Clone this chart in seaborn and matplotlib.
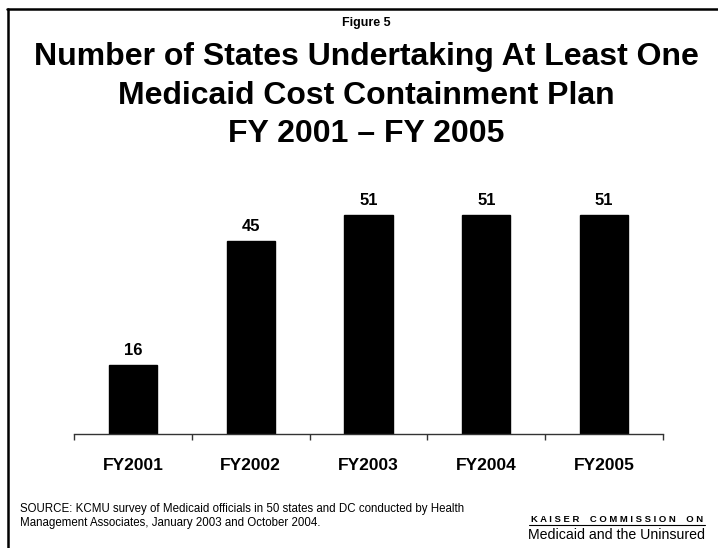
import matplotlib
matplotlib.use("Agg")
import matplotlib.pyplot as plt
import seaborn as sns
import pandas as pd

categories = ["FY2001", "FY2002", "FY2003", "FY2004", "FY2005"]
values = [16, 45, 51, 51, 51]

sns.set_theme(style="white")
plt.rcParams['font.family'] = ['Liberation Sans', 'DejaVu Sans']
plt.rcParams['text.color'] = 'black'
plt.rcParams['xtick.color'] = 'black'
plt.rcParams['axes.labelcolor'] = 'black'

fig = plt.figure(figsize=(7.18, 5.48), dpi=100)
fig.patch.set_facecolor("white")

# frame lines (top and left)
fig.add_artist(plt.Line2D([7/718, 1], [1-8.5/548, 1-8.5/548], color="black", lw=1.8, transform=fig.transFigure))
fig.add_artist(plt.Line2D([7.5/718, 7.5/718], [0, 1-8.5/548], color="black", lw=1.8, transform=fig.transFigure))

ax = fig.add_axes([74/718, 1-434/548, 589/718, 254/548])
df = pd.DataFrame({"year": categories, "count": values})
sns.barplot(data=df, x="year", y="count", color="black", width=0.41, ax=ax,
            saturation=1, edgecolor="black")
ax.set_ylim(0, 59.2)
ax.set_xlim(-0.5, len(categories) - 0.5)
for s in ["top", "right", "left"]:
    ax.spines[s].set_visible(False)
ax.spines["bottom"].set_color("#333333")
ax.spines["bottom"].set_linewidth(1.0)
ax.set_yticks([])
ax.set_xlabel("")
ax.set_ylabel("")
ax.set_xticks([i - 0.5 for i in range(len(categories) + 1)])
ax.set_xticklabels([])
ax.tick_params(axis="x", which="major", direction="out", length=4.5, width=1, color="#333333", bottom=True)
ax.set_xticks(range(len(categories)), minor=True)
ax.set_xticklabels(categories, minor=True, fontsize=12.5, fontweight="bold", color="black")
ax.tick_params(axis="x", which="minor", length=0, pad=17)
ax.bar_label(ax.containers[0], labels=[str(v) for v in values], padding=5,
             fontsize=12, fontweight="bold", color="black")

fig.text(366/718, 1-26/548, "Figure 5", ha="center", va="baseline", fontsize=9,
         fontweight="bold")
for i, line in enumerate(["Number of States Undertaking At Least One",
                          "Medicaid Cost Containment Plan",
                          "FY 2001 \u2013 FY 2005"]):
    fig.text(366/718, 1-(65 + 38.5*i)/548, line, ha="center", va="baseline", fontsize=23,
             fontweight="bold")

fig.text(20/718, 1-509/548, "SOURCE: KCMU survey of Medicaid officials in 50 states and DC conducted by Health",
         ha="left", va="center", fontsize=8.3)
fig.text(20/718, 1-523/548, "Management Associates, January 2003 and October 2004.",
         ha="left", va="center", fontsize=8.3)
fig.text(617/718, 1-519/548, "K A I S E R    C O M M I S S I O N    O N", ha="center", va="center",
         fontsize=6.8, fontweight="bold")
fig.add_artist(plt.Line2D([529/718, 705/718], [1-524.5/548, 1-524.5/548], color="black", lw=0.8,
                          transform=fig.transFigure))
fig.text(617/718, 1-535/548, "Medicaid and the Uninsured", ha="center", va="center", fontsize=10.2)

fig.savefig("out.png", dpi=100, facecolor="white")
